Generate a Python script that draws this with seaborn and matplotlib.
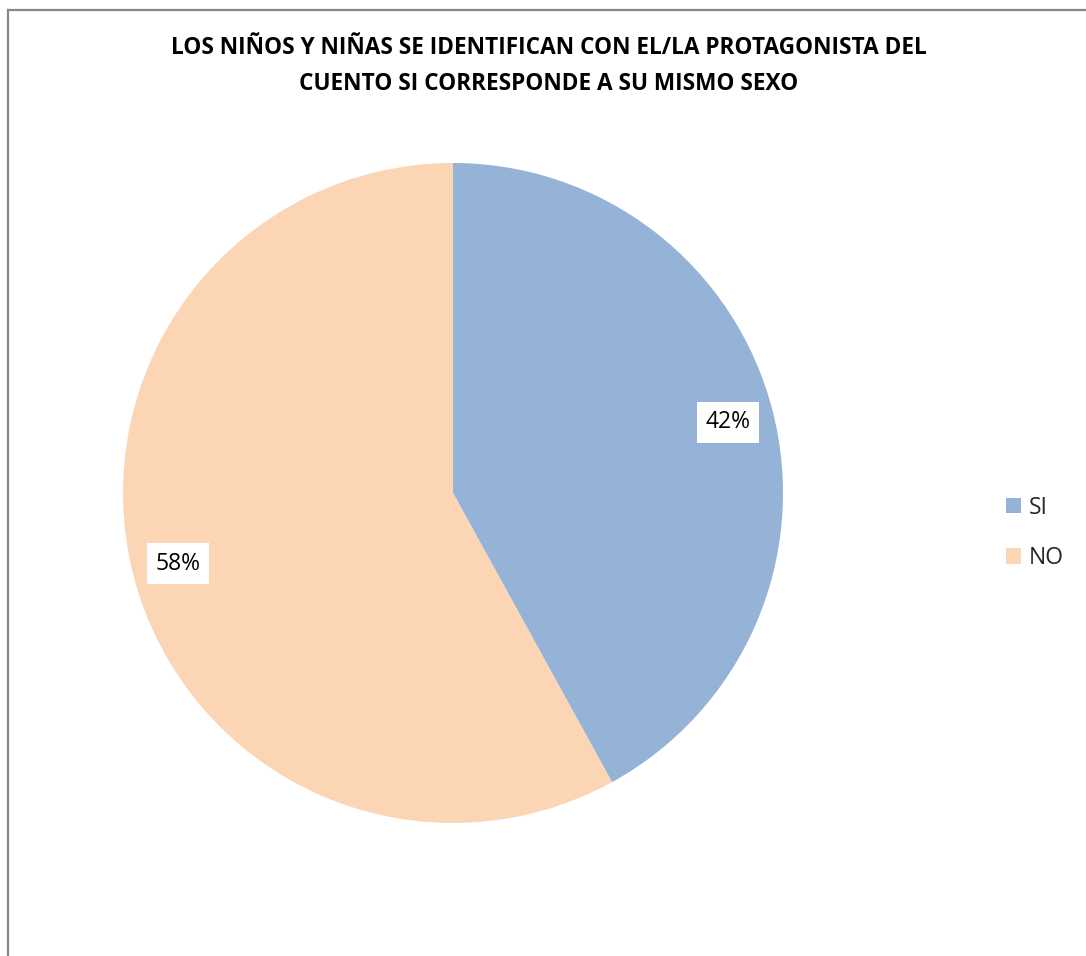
import matplotlib
matplotlib.use("Agg")
import matplotlib.pyplot as plt
from matplotlib.lines import Line2D
import seaborn as sns

categories = ["SI", "NO"]
values = [42, 58]
colors = ["#95B3D7", "#FCD5B5"]
title = "LOS NIÑOS Y NIÑAS SE IDENTIFICAN CON EL/LA PROTAGONISTA DEL\nCUENTO SI CORRESPONDE A SU MISMO SEXO"

sns.set_theme(style="white")
plt.rcParams['font.family'] = ['Open Sans', 'DejaVu Sans']

W, H = 1086, 956
fig = plt.figure(figsize=(W / 100, H / 100), dpi=100)
fig.patch.set_facecolor("white")

# frame of the chart area (extends past right/bottom edges)
fig.add_artist(Line2D([8 / W, 8 / W], [0, 1 - 10 / H], transform=fig.transFigure,
                      color="#878787", lw=1.6, solid_capstyle="projecting"))
fig.add_artist(Line2D([8 / W, 1], [1 - 10 / H, 1 - 10 / H], transform=fig.transFigure,
                      color="#878787", lw=1.6, solid_capstyle="projecting"))

cx, cy, r = 453, 493, 330
ax = fig.add_axes([(cx - r) / W, (H - cy - r) / H, 2 * r / W, 2 * r / H])
wedges, texts, autotexts = ax.pie(
    values, colors=colors, startangle=90, counterclock=False,
    autopct=lambda p: f"{p:.0f}%", pctdistance=0.86,
    wedgeprops=dict(linewidth=0),
    textprops=dict(fontsize=16.5, color="black"),
)
for t in autotexts:
    t.set_bbox(dict(facecolor="white", edgecolor="none", pad=6))
ax.set_xlim(-1, 1)
ax.set_ylim(-1, 1)
ax.set_aspect("equal")
ax.axis("off")

fig.text(549 / W, 1 - 66 / H, title, ha="center", va="center",
         fontsize=16.3, fontweight="bold", linespacing=1.65, color="black")

fig.legend(wedges, categories, loc="center left", bbox_to_anchor=(985 / W, 1 - 533 / H),
           frameon=False, fontsize=16.5, handlelength=0.65, handleheight=0.65,
           handletextpad=0.35, labelspacing=1.15)

fig.savefig("out.png", dpi=100, facecolor="white")
